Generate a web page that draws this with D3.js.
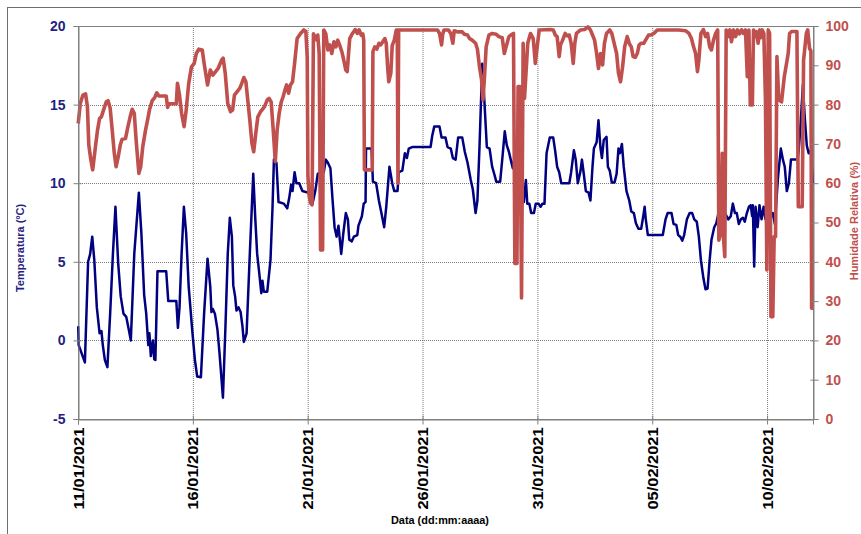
<!DOCTYPE html>
<html>
<head>
<meta charset="utf-8">
<script src="https://cdn.jsdelivr.net/npm/d3@7"></script>
<style>
  body { margin: 0; background: #fff; }
  text { font-family: "Liberation Sans", Arial, sans-serif; font-weight: bold; }
</style>
</head>
<body>
<div id="chart"></div>
<script>
// x axis tick labels (every 5 days)
const dateTicks = ["11/01/2021", "16/01/2021", "21/01/2021", "26/01/2021", "31/01/2021", "05/02/2021", "10/02/2021"];
const startDate = "11/01/2021";
const endDate = "12/02/2021";
const tempTicks = [-5, 0, 5, 10, 15, 20];
const rhTicks = [0, 10, 20, 30, 40, 50, 60, 70, 80, 90, 100];

// [days since 11/01/2021, temperature ºC]
const temperature = [[0.01,0.9],[0.03,-0.3],[0.30,-1.4],[0.44,5.0],[0.53,5.5],[0.62,6.6],[0.71,5.1],[0.82,2.1],[0.94,0.45],[1.02,0.6],[1.08,-0.3],[1.17,-1.25],[1.28,-1.7],[1.40,1.7],[1.52,5.5],[1.63,8.5],[1.75,4.9],[1.86,2.8],[1.98,1.7],[2.10,1.5],[2.21,0.7],[2.30,0.0],[2.45,5.5],[2.65,9.4],[2.76,6.8],[2.88,2.9],[2.97,1.7],[3.06,-0.3],[3.11,0.45],[3.17,-1.0],[3.26,0.0],[3.32,-1.2],[3.37,-1.25],[3.46,4.4],[3.84,4.4],[3.93,2.5],[4.28,2.5],[4.35,0.8],[4.42,2.1],[4.51,5.5],[4.61,8.5],[4.71,6.8],[4.82,3.4],[4.97,0.7],[5.09,-1.25],[5.19,-2.3],[5.35,-2.35],[5.49,1.7],[5.64,5.2],[5.76,3.4],[5.81,1.8],[5.87,2.0],[5.96,1.7],[6.07,0.7],[6.16,-0.8],[6.31,-3.65],[6.42,0.9],[6.52,5.5],[6.61,7.8],[6.70,6.6],[6.76,3.5],[6.84,2.8],[6.90,1.9],[6.99,2.1],[7.08,1.8],[7.16,0.9],[7.22,-0.1],[7.34,0.45],[7.48,5.5],[7.63,10.6],[7.72,7.7],[7.80,5.5],[7.89,4.3],[7.98,3.0],[8.03,3.8],[8.09,3.1],[8.24,3.1],[8.38,5.1],[8.47,8.5],[8.53,11.5],[8.64,11.3],[8.73,8.8],[8.96,8.7],[9.11,8.4],[9.20,9.1],[9.28,9.9],[9.34,9.5],[9.43,10.7],[9.51,10.0],[9.63,10.0],[9.77,9.5],[10.01,9.4],[10.12,9.4],[10.21,8.7],[10.33,9.5],[10.44,10.6],[10.56,10.7],[10.70,10.7],[10.79,11.5],[10.88,11.3],[10.99,10.95],[11.08,9.0],[11.17,7.2],[11.26,6.6],[11.34,7.3],[11.46,5.5],[11.55,6.8],[11.66,8.1],[11.75,7.7],[11.81,6.4],[11.92,6.3],[12.01,6.6],[12.16,6.7],[12.21,7.3],[12.36,7.9],[12.44,8.7],[12.52,8.8],[12.54,12.2],[12.78,12.2],[12.84,10.1],[12.98,10.0],[13.10,8.9],[13.21,8.1],[13.33,7.2],[13.42,8.5],[13.56,11.05],[13.68,10.0],[13.77,9.5],[13.91,9.5],[13.97,10.7],[14.12,10.8],[14.23,11.9],[14.32,11.6],[14.40,12.2],[14.55,12.3],[15.35,12.3],[15.42,13.0],[15.51,13.6],[15.74,13.6],[15.83,12.9],[16.00,12.9],[16.09,12.3],[16.23,12.2],[16.32,11.6],[16.44,11.5],[16.55,12.9],[16.73,12.9],[16.84,12.0],[16.96,11.3],[17.10,10.2],[17.19,9.6],[17.31,8.1],[17.39,8.9],[17.48,12.3],[17.60,17.6],[17.69,15.3],[17.80,12.3],[17.92,12.2],[18.03,11.05],[18.12,10.6],[18.21,10.1],[18.38,10.1],[18.47,11.5],[18.58,13.3],[18.67,12.4],[18.76,12.0],[18.84,11.5],[18.93,10.95],[18.99,11.5],[19.05,10.8],[19.16,10.5],[19.27,9.3],[19.41,8.8],[19.50,10.2],[19.56,8.7],[19.65,8.7],[19.73,8.1],[19.85,8.1],[19.93,8.7],[20.05,8.7],[20.14,8.5],[20.22,8.7],[20.31,8.7],[20.40,11.9],[20.54,12.9],[20.69,12.9],[20.78,12.0],[20.86,11.05],[20.95,10.7],[21.04,10.0],[21.39,10.0],[21.47,10.7],[21.59,12.1],[21.67,11.5],[21.76,10.0],[21.88,10.8],[21.94,11.5],[22.02,10.6],[22.11,9.5],[22.23,9.4],[22.31,8.9],[22.40,11.05],[22.46,12.2],[22.58,12.6],[22.66,14.0],[22.75,12.2],[22.81,11.6],[22.89,12.75],[23.01,12.95],[23.07,11.05],[23.15,10.8],[23.24,10.05],[23.36,10.05],[23.45,10.6],[23.53,12.2],[23.59,11.9],[23.68,12.5],[23.76,11.05],[23.88,9.5],[24.00,8.9],[24.09,8.2],[24.20,8.1],[24.29,7.45],[24.40,7.1],[24.52,7.1],[24.61,7.9],[24.67,8.5],[24.72,7.7],[24.81,6.7],[25.46,6.7],[25.58,7.7],[25.67,8.1],[25.84,8.1],[25.93,7.4],[26.05,7.35],[26.13,6.7],[26.22,6.6],[26.31,6.35],[26.39,6.7],[26.51,7.7],[26.63,8.1],[26.74,8.1],[26.83,7.7],[26.94,7.55],[27.03,6.6],[27.12,5.1],[27.23,3.95],[27.32,3.25],[27.41,3.3],[27.50,5.1],[27.58,6.4],[27.70,7.2],[27.79,7.45],[27.87,8.0],[28.06,8.4],[28.31,7.7],[28.42,7.9],[28.51,8.7],[28.60,8.1],[28.68,8.1],[28.77,7.4],[28.86,7.7],[28.95,7.8],[29.03,7.55],[29.12,8.1],[29.21,8.5],[29.29,8.6],[29.35,7.9],[29.38,8.6],[29.44,4.7],[29.50,8.5],[29.59,7.2],[29.67,8.6],[29.76,7.7],[29.85,8.5],[29.93,7.7],[30.05,8.1],[30.15,7.8],[30.25,8.1],[30.34,7.4],[30.44,9.6],[30.49,10.6],[30.60,12.2],[30.69,11.5],[30.77,11.05],[30.86,9.5],[30.95,10.0],[31.04,11.5],[31.33,11.5],[31.38,12.1],[31.47,14.0],[31.56,16.25],[31.64,14.2],[31.73,12.4],[31.81,11.9],[31.91,12.1],[31.99,10.0]];

// [days since 11/01/2021, relative humidity %]
const humidity = [[0.01,75.2],[0.10,80.3],[0.21,82.4],[0.33,82.7],[0.41,79.5],[0.47,69.7],[0.56,65.9],[0.64,63.4],[0.76,69.3],[0.85,73.5],[0.94,76.5],[1.02,76.9],[1.11,78.6],[1.23,80.7],[1.31,81.0],[1.40,79.1],[1.49,73.5],[1.58,67.6],[1.66,64.2],[1.75,66.7],[1.84,69.7],[1.92,71.2],[2.07,71.4],[2.16,74.0],[2.27,76.9],[2.36,78.8],[2.45,77.8],[2.53,71.0],[2.65,62.5],[2.73,64.2],[2.82,69.3],[2.94,73.5],[3.03,76.1],[3.11,78.6],[3.23,81.0],[3.34,81.8],[3.43,83.0],[3.52,82.2],[3.84,82.2],[3.90,79.3],[3.95,80.2],[4.28,80.2],[4.33,85.4],[4.42,82.4],[4.51,77.8],[4.62,74.4],[4.71,78.6],[4.82,85.4],[4.94,89.6],[5.06,90.5],[5.15,93.0],[5.26,94.1],[5.41,93.9],[5.49,90.5],[5.64,85.0],[5.76,88.8],[5.87,87.5],[5.99,88.4],[6.10,89.2],[6.25,91.3],[6.32,91.8],[6.41,88.0],[6.52,80.3],[6.64,78.2],[6.73,78.6],[6.81,82.4],[6.93,83.3],[7.04,84.1],[7.13,85.4],[7.22,86.9],[7.31,85.8],[7.39,81.2],[7.48,76.1],[7.57,70.2],[7.65,68.0],[7.74,72.7],[7.83,76.9],[7.95,78.2],[8.03,78.8],[8.12,79.5],[8.24,81.2],[8.32,81.6],[8.41,80.7],[8.50,73.5],[8.59,65.5],[8.67,73.5],[8.76,77.8],[8.85,80.7],[8.93,82.0],[8.99,83.3],[9.08,85.0],[9.17,82.9],[9.25,85.0],[9.34,85.8],[9.43,90.5],[9.54,96.8],[9.69,98.1],[9.83,99.0],[9.92,98.6],[9.98,92.0],[10.01,62],[10.06,57],[10.12,55],[10.19,54.5],[10.25,98],[10.38,96.5],[10.44,97.7],[10.50,93.0],[10.56,43.0],[10.65,43.0],[10.70,99.0],[10.79,98.0],[10.88,93.9],[10.96,95.2],[11.05,93.0],[11.14,96.0],[11.23,94.7],[11.31,96.4],[11.40,95.0],[11.49,93.4],[11.57,91.3],[11.66,88.8],[11.72,88.4],[11.78,93.0],[11.83,96.8],[11.95,98.1],[12.07,99.1],[12.16,98.1],[12.24,99.0],[12.33,97.7],[12.40,98],[12.44,96.4],[12.47,63.4],[12.81,63.4],[12.84,93.5],[12.92,94.7],[13.01,94.1],[13.10,95.6],[13.18,95.2],[13.27,96.0],[13.36,96.8],[13.42,95.6],[13.48,89.6],[13.53,85.8],[13.62,88.0],[13.68,95.0],[13.77,96.4],[13.86,99.0],[13.90,99],[13.93,60],[13.96,99],[15.65,99],[15.74,98.1],[15.83,95.2],[15.88,98],[15.94,99],[16.13,99],[16.23,98.1],[16.32,95.6],[16.38,98.8],[16.52,98.5],[16.73,98.5],[16.82,97.9],[16.96,97.7],[17.05,96.8],[17.16,96.4],[17.31,95.6],[17.39,94.1],[17.48,89.6],[17.57,86.3],[17.63,81.2],[17.69,86.3],[17.77,94.7],[17.89,97.7],[18.03,98.1],[18.21,97.9],[18.32,97.3],[18.47,97],[18.56,93.0],[18.64,94.7],[18.76,97.3],[18.87,97.8],[18.96,98.1],[19.02,39.6],[19.11,39.6],[19.16,84.6],[19.24,84.6],[19.31,30.8],[19.38,95.6],[19.44,81.6],[19.53,90.5],[19.58,95.6],[19.70,98.1],[19.82,96.8],[19.91,90.5],[19.99,94.7],[20.08,99.0],[20.57,99.1],[20.69,99],[20.78,97.7],[20.86,97.3],[20.95,92.2],[21.01,95.2],[21.10,96.4],[21.21,98.1],[21.30,97.5],[21.39,97.7],[21.47,95.6],[21.56,90.5],[21.63,95.6],[21.70,98.1],[21.88,99.0],[22.05,99.1],[22.20,99.8],[22.31,99.0],[22.40,97.7],[22.49,96.4],[22.58,93.0],[22.66,89.2],[22.75,93.0],[22.84,90.1],[22.92,95.6],[23.01,98.1],[23.15,99.0],[23.24,98.1],[23.36,95.2],[23.45,93.0],[23.53,88.0],[23.62,85.8],[23.71,89.6],[23.80,94.7],[23.91,97.3],[24.00,95.6],[24.09,94.7],[24.17,92.2],[24.26,92.0],[24.35,93.0],[24.43,95.2],[24.52,95.6],[24.63,95.6],[24.75,96.8],[24.84,97.7],[24.93,97.7],[25.07,98.1],[25.22,99.0],[26.16,99.0],[26.45,98.8],[26.60,98.1],[26.71,96.8],[26.80,94.7],[26.89,93.0],[26.97,88.4],[27.03,91.3],[27.12,98.1],[27.23,99.1],[27.32,97.3],[27.41,98.1],[27.50,94.7],[27.58,93.9],[27.67,96.4],[27.76,98.1],[27.85,99.0],[27.90,45.5],[27.99,47.3],[28.05,67.6],[28.11,45.5],[28.16,41.3],[28.22,99.0],[28.31,97.3],[28.38,99],[28.45,96.0],[28.54,99],[28.63,97.3],[28.71,99.0],[28.80,98.0],[28.89,99],[28.97,98.1],[29.06,99],[29.14,87.1],[29.21,99.0],[29.27,79.9],[29.36,79.9],[29.41,99.0],[29.47,97.3],[29.53,98.6],[29.61,95.6],[29.68,99],[29.72,97.0],[29.79,99.0],[29.86,98.1],[29.93,81.2],[29.99,37.9],[30.05,99.0],[30.11,98.1],[30.17,26.0],[30.25,26.0],[30.31,46.4],[30.37,46.4],[30.43,92.2],[30.51,81.2],[30.63,80.7],[30.75,87.1],[30.92,93.0],[30.98,98.1],[31.07,98.6],[31.30,98.6],[31.36,54.0],[31.53,54.0],[31.59,91.3],[31.71,98.1],[31.77,99.0],[31.85,94.3],[31.91,93.6],[31.94,28.2],[32.00,28.2]];

const width = 861, height = 534;
const margin = { top: 26, right: 48, bottom: 115, left: 78 };
const blue = "#000080", red = "#c0504d";

const parseDay = d3.timeParse("%d/%m/%Y");
const t0 = parseDay(startDate);
const toDate = d => new Date(t0.getTime() + d * 864e5);

const svg = d3.select("#chart")
  .append("svg")
  .attr("width", width)
  .attr("height", height);

// outer frame
svg.append("rect")
  .attr("x", 7.5).attr("y", 7.5)
  .attr("width", width + 20).attr("height", height + 20)
  .attr("fill", "none")
  .attr("stroke", "#6e6e6e");

let x = d3.scaleTime()
  .domain([t0, parseDay(endDate)])
  .range([margin.left, width - margin.right]);

let yT = d3.scaleLinear()
  .domain([-5, 20])
  .range([height - margin.bottom, margin.top]);

let yH = d3.scaleLinear()
  .domain([0, 100])
  .range([height - margin.bottom, margin.top]);

// dotted grid
svg.append("g")
  .selectAll("line")
  .data(dateTicks.slice(1))
  .join("line")
  .attr("x1", d => x(parseDay(d)) + 0.5).attr("x2", d => x(parseDay(d)) + 0.5)
  .attr("y1", margin.top).attr("y2", height - margin.bottom)
  .attr("stroke", "#7a7a7a")
  .attr("stroke-dasharray", "1,1");

svg.append("g")
  .selectAll("line")
  .data(tempTicks.slice(1, -1))
  .join("line")
  .attr("x1", margin.left).attr("x2", width - margin.right)
  .attr("y1", d => Math.round(yT(d)) + 0.5).attr("y2", d => Math.round(yT(d)) + 0.5)
  .attr("stroke", "#7a7a7a")
  .attr("stroke-dasharray", "1,1");

// plot frame
svg.append("rect")
  .attr("x", margin.left + 0.5).attr("y", margin.top + 0.5)
  .attr("width", width - margin.left - margin.right)
  .attr("height", height - margin.top - margin.bottom)
  .attr("fill", "none")
  .attr("stroke", "#808080");

// series
let lineT = d3.line()
  .x(d => x(toDate(d[0])))
  .y(d => yT(d[1]));

let lineH = d3.line()
  .x(d => x(toDate(d[0])))
  .y(d => yH(d[1]));

svg.append("path")
  .datum(temperature)
  .attr("d", lineT)
  .attr("fill", "none")
  .attr("stroke", blue)
  .attr("stroke-width", 2.5)
  .attr("stroke-linejoin", "round");

svg.append("path")
  .datum(humidity)
  .attr("d", lineH)
  .attr("fill", "none")
  .attr("stroke", red)
  .attr("stroke-width", 3.6)
  .attr("stroke-linejoin", "round");

// axes
const xAxis = svg.append("g")
  .attr("transform", `translate(0,${height - margin.bottom + 0.5})`)
  .call(d3.axisBottom(x).tickValues(dateTicks.map(parseDay)).tickFormat(d3.timeFormat("%d/%m/%Y")).tickSizeOuter(0).tickSize(5));

xAxis.select(".domain").attr("stroke", "#808080");
xAxis.selectAll(".tick line").attr("stroke", "#808080").attr("y1", -4);
xAxis.selectAll(".tick text")
  .attr("transform", "rotate(-90)")
  .attr("x", -8).attr("y", 0).attr("dy", "0.36em")
  .attr("text-anchor", "end")
  .attr("fill", "#000")
  .style("font-size", "14px")
  .attr("textLength", 82)
  .attr("lengthAdjust", "spacingAndGlyphs");

const yAxisL = svg.append("g")
  .attr("transform", `translate(${margin.left + 0.5},0)`)
  .call(d3.axisLeft(yT).tickValues(tempTicks).tickFormat(d => String(d)).tickSize(5).tickPadding(8));

yAxisL.select(".domain").attr("stroke", "#808080");
yAxisL.selectAll(".tick line").attr("stroke", "#808080").attr("x1", 3);
yAxisL.selectAll(".tick text")
  .attr("fill", "#1f237f")
  .style("font-size", "14px");

const yAxisR = svg.append("g")
  .attr("transform", `translate(${width - margin.right + 0.5},0)`)
  .call(d3.axisRight(yH).tickValues(rhTicks).tickFormat(d => String(d)).tickSize(5).tickPadding(7));

yAxisR.select(".domain").attr("stroke", "#808080");
yAxisR.selectAll(".tick line").attr("stroke", "#808080").attr("x1", -3);
yAxisR.selectAll(".tick text")
  .attr("fill", red)
  .style("font-size", "14px");

// titles
svg.append("text")
  .attr("transform", "translate(24,248) rotate(-90)")
  .attr("text-anchor", "middle")
  .attr("fill", "#1f237f")
  .style("font-size", "11px")
  .text("Temperatura (ºC)");

svg.append("text")
  .attr("transform", "translate(858,221) rotate(-90)")
  .attr("text-anchor", "middle")
  .attr("fill", red)
  .style("font-size", "11px")
  .text("Humidade Relativa (%)");

svg.append("text")
  .attr("x", 440).attr("y", 524)
  .attr("text-anchor", "middle")
  .attr("fill", "#000")
  .style("font-size", "11px")
  .attr("textLength", 98)
  .attr("lengthAdjust", "spacingAndGlyphs")
  .text("Data (dd:mm:aaaa)");
</script>
</body>
</html>
